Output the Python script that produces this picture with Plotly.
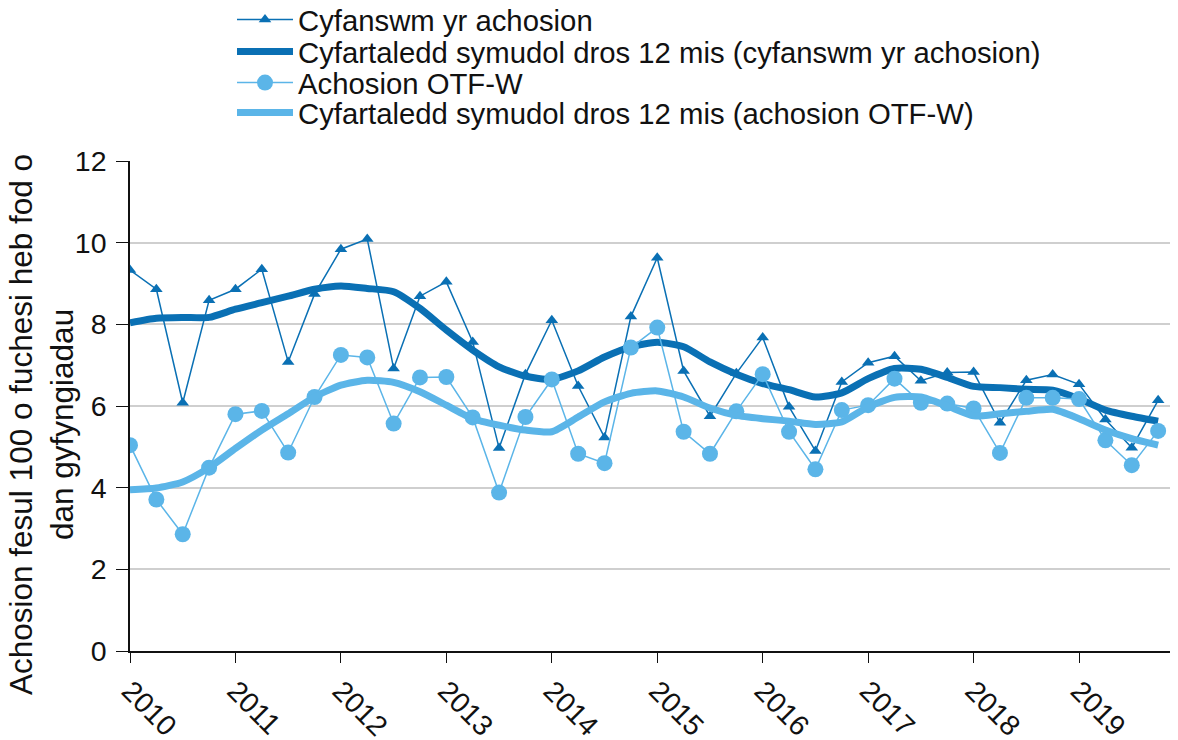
import plotly.graph_objects as go

years = [2010, 2011, 2012, 2013, 2014, 2015, 2016, 2017, 2018, 2019]
quarters = [0, 1, 2, 3]
period = [y + q / 4 for y in years for q in quarters]

total_cases = [
    9.33, 8.86, 6.08, 8.59,
    8.86, 9.35, 7.08, 8.74,
    9.84, 10.09, 6.92, 8.69,
    9.04, 7.57, 4.97, 6.78,
    8.10, 6.49, 5.23, 8.19,
    9.63, 6.86, 5.75, 6.80,
    7.68, 5.98, 4.90, 6.59,
    7.06, 7.22, 6.62, 6.82,
    6.83, 5.59, 6.63, 6.77,
    6.53, 5.67, 4.98, 6.14,
]
otf_w_cases = [
    5.04, 3.71, 2.86, 4.49,
    5.80, 5.88, 4.86, 6.22,
    7.25, 7.19, 5.57, 6.70,
    6.71, 5.72, 3.88, 5.73,
    6.65, 4.83, 4.60, 7.43,
    7.92, 5.37, 4.83, 5.87,
    6.78, 5.37, 4.45, 5.90,
    6.02, 6.67, 6.08, 6.06,
    5.94, 4.85, 6.20, 6.20,
    6.17, 5.16, 4.55, 5.39,
]
ma_total = [
    8.04, 8.15, 8.17, 8.17,
    8.37, 8.53, 8.69, 8.86,
    8.94, 8.88, 8.80, 8.39,
    7.86, 7.37, 6.96, 6.73,
    6.65, 6.86, 7.20, 7.45,
    7.56, 7.45, 7.08, 6.78,
    6.55, 6.40, 6.22, 6.32,
    6.67, 6.92, 6.90, 6.70,
    6.48, 6.45, 6.41, 6.39,
    6.18, 5.90, 5.75, 5.63,
]
ma_otf_w = [
    3.95, 3.99, 4.14, 4.49,
    4.96, 5.41, 5.81, 6.22,
    6.51, 6.63, 6.58, 6.35,
    6.02, 5.69, 5.53, 5.41,
    5.37, 5.73, 6.10, 6.31,
    6.37, 6.22, 5.95, 5.77,
    5.69, 5.63, 5.55, 5.61,
    5.98, 6.21, 6.22, 6.00,
    5.76, 5.81, 5.87, 5.92,
    5.69, 5.41, 5.20, 5.04,
]
year_labels = [str(y) for y in years]

names = [
    "Cyfanswm yr achosion",
    "Cyfartaledd symudol dros 12 mis (cyfanswm yr achosion)",
    "Achosion OTF-W",
    "Cyfartaledd symudol dros 12 mis (achosion OTF-W)",
]

DARK = "#0A70B4"
LIGHT = "#5BB5E8"
FONT = "Liberation Sans, Arial, sans-serif"

fig = go.Figure()
fig.add_trace(go.Scatter(
    x=period, y=total_cases, name=names[0], mode="lines+markers",
    line=dict(color=DARK, width=1.5),
    marker=dict(symbol="triangle-up", size=11, color=DARK),
    legend="legend"))
fig.add_trace(go.Scatter(
    x=period, y=ma_total, name=names[1], mode="lines",
    line=dict(color=DARK, width=7, shape="spline", smoothing=0.6),
    legend="legend2"))
fig.add_trace(go.Scatter(
    x=period, y=otf_w_cases, name=names[2], mode="lines+markers",
    line=dict(color=LIGHT, width=1.5),
    marker=dict(symbol="circle", size=16, color=LIGHT),
    legend="legend3"))
fig.add_trace(go.Scatter(
    x=period, y=ma_otf_w, name=names[3], mode="lines",
    line=dict(color=LIGHT, width=7, shape="spline", smoothing=0.6),
    legend="legend4"))

# the page body has an 8px default margin; target pixels are screen pixels
OFF = 8
W, H = 1178 - OFF, 740 - OFF
L = 130 - OFF
T = 161 - OFF
plot_h = 490
B = H - T - plot_h
plot_w = W - L


def px_to_paper_x(px):
    return (px - OFF - L) / plot_w


def px_to_paper_y(py):
    return (H - B - (py - OFF)) / plot_h


leg_common = dict(
    xanchor="left", yanchor="middle", bgcolor="rgba(0,0,0,0)",
    font=dict(family=FONT, size=29.3, color="#111"), itemwidth=56,
    borderwidth=0, tracegroupgap=0,
)
rows_y = [20, 52, 83, 113]
leg_x = px_to_paper_x(232)

fig.update_layout(
    width=W, height=H,
    margin=dict(l=L, r=0, t=T, b=B, autoexpand=False),
    paper_bgcolor="white", plot_bgcolor="white",
    showlegend=True,
    font=dict(family=FONT, size=28, color="#111"),
    legend=dict(x=leg_x, y=px_to_paper_y(rows_y[0]), **leg_common),
    legend2=dict(x=leg_x, y=px_to_paper_y(rows_y[1]), **leg_common),
    legend3=dict(x=leg_x, y=px_to_paper_y(rows_y[2]), **leg_common),
    legend4=dict(x=leg_x, y=px_to_paper_y(rows_y[3]), **leg_common),
    xaxis=dict(
        range=[2010, 2010 + plot_w / 105.45],
        tickvals=years, ticktext=year_labels, tickangle=45,
        showgrid=False, zeroline=False, automargin=False,
        showline=True, linecolor="#111", linewidth=1.5,
        ticks="outside", ticklen=10, tickwidth=1.2, tickcolor="#111",
        tickfont=dict(family=FONT, size=28.5, color="#111"),
    ),
    yaxis=dict(
        range=[0, 12], tickvals=[0, 2, 4, 6, 8, 10, 12],
        showgrid=True, gridcolor="#CFCFCF", gridwidth=1.5,
        zeroline=False, automargin=False,
        showline=True, linecolor="#111", linewidth=1.5,
        ticks="outside", ticklen=12, tickwidth=1.2, tickcolor="#111",
        ticklabelstandoff=4,
        tickfont=dict(family=FONT, size=28.5, color="#111"),
    ),
    annotations=[dict(
        text="Achosion fesul 100 o fuchesi heb fod o<br>dan gyfyngiadau",
        xref="paper", yref="paper",
        x=px_to_paper_x(41), y=px_to_paper_y(425),
        xanchor="center", yanchor="middle", textangle=-90,
        showarrow=False, align="center",
        font=dict(family=FONT, size=31.5, color="#111"),
    )],
)

fig.write_html("out.html")
